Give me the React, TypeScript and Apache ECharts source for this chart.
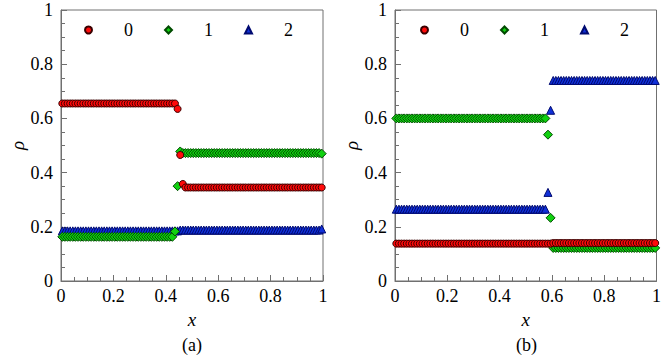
import React, { useEffect, useRef } from "react";
import * as echarts from "echarts";

const FONT = "'Liberation Serif', 'Times New Roman', Times, serif";

// cell-centre x positions (100 cells)
const xs = [
  0.005, 0.015, 0.025, 0.035, 0.045, 0.055, 0.065, 0.075, 0.085, 0.095,
  0.105, 0.115, 0.125, 0.135, 0.145, 0.155, 0.165, 0.175, 0.185, 0.195,
  0.205, 0.215, 0.225, 0.235, 0.245, 0.255, 0.265, 0.275, 0.285, 0.295,
  0.305, 0.315, 0.325, 0.335, 0.345, 0.355, 0.365, 0.375, 0.385, 0.395,
  0.405, 0.415, 0.425, 0.435, 0.445, 0.455, 0.465, 0.475, 0.485, 0.495,
  0.505, 0.515, 0.525, 0.535, 0.545, 0.555, 0.565, 0.575, 0.585, 0.595,
  0.605, 0.615, 0.625, 0.635, 0.645, 0.655, 0.665, 0.675, 0.685, 0.695,
  0.705, 0.715, 0.725, 0.735, 0.745, 0.755, 0.765, 0.775, 0.785, 0.795,
  0.805, 0.815, 0.825, 0.835, 0.845, 0.855, 0.865, 0.875, 0.885, 0.895,
  0.905, 0.915, 0.925, 0.935, 0.945, 0.955, 0.965, 0.975, 0.985, 0.995,
];

const seriesNames = ["0", "1", "2"];
const xTicks = [0, 0.2, 0.4, 0.6, 0.8, 1];
const panelLabels = ["(a)", "(b)"];

// Panel (a)
const a0 = [
  0.655, 0.655, 0.655, 0.655, 0.655, 0.655, 0.655, 0.655, 0.655, 0.655,
  0.655, 0.655, 0.655, 0.655, 0.655, 0.655, 0.655, 0.655, 0.655, 0.655,
  0.655, 0.655, 0.655, 0.655, 0.655, 0.655, 0.655, 0.655, 0.655, 0.655,
  0.655, 0.655, 0.655, 0.655, 0.655, 0.655, 0.655, 0.655, 0.655, 0.655,
  0.655, 0.655, 0.655, 0.655, 0.635, 0.465, 0.358, 0.345, 0.345, 0.345,
  0.345, 0.345, 0.345, 0.345, 0.345, 0.345, 0.345, 0.345, 0.345, 0.345,
  0.345, 0.345, 0.345, 0.345, 0.345, 0.345, 0.345, 0.345, 0.345, 0.345,
  0.345, 0.345, 0.345, 0.345, 0.345, 0.345, 0.345, 0.345, 0.345, 0.345,
  0.345, 0.345, 0.345, 0.345, 0.345, 0.345, 0.345, 0.345, 0.345, 0.345,
  0.345, 0.345, 0.345, 0.345, 0.345, 0.345, 0.345, 0.345, 0.345, 0.345,
];
const a1 = [
  0.163, 0.163, 0.163, 0.163, 0.163, 0.163, 0.163, 0.163, 0.163, 0.163,
  0.163, 0.163, 0.163, 0.163, 0.163, 0.163, 0.163, 0.163, 0.163, 0.163,
  0.163, 0.163, 0.163, 0.163, 0.163, 0.163, 0.163, 0.163, 0.163, 0.163,
  0.163, 0.163, 0.163, 0.163, 0.163, 0.163, 0.163, 0.163, 0.163, 0.163,
  0.163, 0.163, 0.163, 0.183, 0.35, 0.478, 0.472, 0.472, 0.472, 0.472,
  0.472, 0.472, 0.472, 0.472, 0.472, 0.472, 0.472, 0.472, 0.472, 0.472,
  0.472, 0.472, 0.472, 0.472, 0.472, 0.472, 0.472, 0.472, 0.472, 0.472,
  0.472, 0.472, 0.472, 0.472, 0.472, 0.472, 0.472, 0.472, 0.472, 0.472,
  0.472, 0.472, 0.472, 0.472, 0.472, 0.472, 0.472, 0.472, 0.472, 0.472,
  0.472, 0.472, 0.472, 0.472, 0.472, 0.472, 0.472, 0.472, 0.472, 0.47,
];
const a2 = [
  0.185, 0.185, 0.185, 0.185, 0.185, 0.185, 0.185, 0.185, 0.185, 0.185,
  0.185, 0.185, 0.185, 0.185, 0.185, 0.185, 0.185, 0.185, 0.185, 0.185,
  0.185, 0.185, 0.185, 0.185, 0.185, 0.185, 0.185, 0.185, 0.185, 0.185,
  0.185, 0.185, 0.185, 0.185, 0.185, 0.185, 0.185, 0.185, 0.185, 0.185,
  0.185, 0.185, 0.185, 0.185, 0.185, 0.188, 0.188, 0.188, 0.188, 0.188,
  0.188, 0.188, 0.188, 0.188, 0.188, 0.188, 0.188, 0.188, 0.188, 0.188,
  0.188, 0.188, 0.188, 0.188, 0.188, 0.188, 0.188, 0.188, 0.188, 0.188,
  0.188, 0.188, 0.188, 0.188, 0.188, 0.188, 0.188, 0.188, 0.188, 0.188,
  0.188, 0.188, 0.188, 0.188, 0.188, 0.188, 0.188, 0.188, 0.188, 0.188,
  0.188, 0.188, 0.188, 0.188, 0.188, 0.188, 0.188, 0.188, 0.188, 0.192,
];

// Panel (b)
const b0 = [
  0.138, 0.138, 0.138, 0.138, 0.138, 0.138, 0.138, 0.138, 0.138, 0.138,
  0.138, 0.138, 0.138, 0.138, 0.138, 0.138, 0.138, 0.138, 0.138, 0.138,
  0.138, 0.138, 0.138, 0.138, 0.138, 0.138, 0.138, 0.138, 0.138, 0.138,
  0.138, 0.138, 0.138, 0.138, 0.138, 0.138, 0.138, 0.138, 0.138, 0.138,
  0.138, 0.138, 0.138, 0.138, 0.138, 0.138, 0.138, 0.138, 0.138, 0.138,
  0.138, 0.138, 0.138, 0.138, 0.138, 0.138, 0.138, 0.138, 0.138, 0.138,
  0.14, 0.14, 0.14, 0.14, 0.14, 0.14, 0.14, 0.14, 0.14, 0.14,
  0.14, 0.14, 0.14, 0.14, 0.14, 0.14, 0.14, 0.14, 0.14, 0.14,
  0.14, 0.14, 0.14, 0.14, 0.14, 0.14, 0.14, 0.14, 0.14, 0.14,
  0.14, 0.14, 0.14, 0.14, 0.14, 0.14, 0.14, 0.14, 0.14, 0.14,
];
const b1 = [
  0.6, 0.6, 0.6, 0.6, 0.6, 0.6, 0.6, 0.6, 0.6, 0.6,
  0.6, 0.6, 0.6, 0.6, 0.6, 0.6, 0.6, 0.6, 0.6, 0.6,
  0.6, 0.6, 0.6, 0.6, 0.6, 0.6, 0.6, 0.6, 0.6, 0.6,
  0.6, 0.6, 0.6, 0.6, 0.6, 0.6, 0.6, 0.6, 0.6, 0.6,
  0.6, 0.6, 0.6, 0.6, 0.6, 0.6, 0.6, 0.6, 0.6, 0.6,
  0.6, 0.6, 0.6, 0.6, 0.6, 0.6, 0.6, 0.6, 0.54, 0.233,
  0.122, 0.122, 0.122, 0.122, 0.122, 0.122, 0.122, 0.122, 0.122, 0.122,
  0.122, 0.122, 0.122, 0.122, 0.122, 0.122, 0.122, 0.122, 0.122, 0.122,
  0.122, 0.122, 0.122, 0.122, 0.122, 0.122, 0.122, 0.122, 0.122, 0.122,
  0.122, 0.122, 0.122, 0.122, 0.122, 0.122, 0.122, 0.122, 0.122, 0.122,
];
const b2 = [
  0.265, 0.265, 0.265, 0.265, 0.265, 0.265, 0.265, 0.265, 0.265, 0.265,
  0.265, 0.265, 0.265, 0.265, 0.265, 0.265, 0.265, 0.265, 0.265, 0.265,
  0.265, 0.265, 0.265, 0.265, 0.265, 0.265, 0.265, 0.265, 0.265, 0.265,
  0.265, 0.265, 0.265, 0.265, 0.265, 0.265, 0.265, 0.265, 0.265, 0.265,
  0.265, 0.265, 0.265, 0.265, 0.265, 0.265, 0.265, 0.265, 0.265, 0.265,
  0.265, 0.265, 0.265, 0.265, 0.265, 0.265, 0.265, 0.265, 0.327, 0.63,
  0.74, 0.74, 0.74, 0.74, 0.74, 0.74, 0.74, 0.74, 0.74, 0.74,
  0.74, 0.74, 0.74, 0.74, 0.74, 0.74, 0.74, 0.74, 0.74, 0.74,
  0.74, 0.74, 0.74, 0.74, 0.74, 0.74, 0.74, 0.74, 0.74, 0.74,
  0.74, 0.74, 0.74, 0.74, 0.74, 0.74, 0.74, 0.74, 0.74, 0.74,
];

const panels = [
  [a0, a1, a2],
  [b0, b1, b2],
];

const STYLES = [
  { symbol: "circle", size: 7, color: "#ff0a0a", border: "#3a0000", z: 4 },
  { symbol: "diamond", size: 9, color: "#10d010", border: "#004a00", z: 3 },
  { symbol: "triangle", size: 8, color: "#1030d8", border: "#000a70", z: 2 },
];

const GRIDS = [
  { left: 61, top: 10, width: 262, height: 271 },
  { left: 395, top: 10, width: 263, height: 271 },
];

const AXIS_COLOR = "#707070";

function fmt(v: number) {
  return String(Math.round(v * 10) / 10);
}

export default function App() {
  const ref = useRef<HTMLDivElement>(null);

  useEffect(() => {
    document.body.style.margin = "0";
    if (!ref.current) return;
    const chart = echarts.init(ref.current, null, { renderer: "svg" });

    const axisCommon = (gridIndex: number, name: string, isX: boolean) => ({
      type: "value",
      gridIndex,
      min: xTicks[0],
      max: xTicks[xTicks.length - 1],
      interval: 0.2,
      name,
      nameLocation: "middle",
      nameGap: isX ? 24 : 34,
      nameTextStyle: {
        fontFamily: FONT,
        fontStyle: "italic",
        fontSize: 19,
        color: "#000",
      },
      axisLine: { show: true, lineStyle: { color: AXIS_COLOR, width: 1 } },
      axisTick: {
        show: true,
        inside: true,
        length: 6,
        lineStyle: { color: AXIS_COLOR, width: 1 },
      },
      minorTick: {
        show: true,
        splitNumber: 4,
        length: 4,
        lineStyle: { color: AXIS_COLOR, width: 1 },
      },
      axisLabel: {
        fontFamily: FONT,
        fontSize: 18,
        color: "#000",
        margin: isX ? 6 : 8,
        formatter: fmt,
      },
      splitLine: { show: false },
      minorSplitLine: { show: false },
    });

    const series: any[] = [];
    panels.forEach((sets, p) => {
      sets.forEach((vals, k) => {
        const st = STYLES[k];
        series.push({
          type: "scatter",
          name: seriesNames[k],
          xAxisIndex: p,
          yAxisIndex: p,
          symbol: st.symbol,
          symbolSize: st.size,
          z: st.z,
          itemStyle: {
            color: st.color,
            borderColor: st.border,
            borderWidth: 1,
            opacity: 1,
          },
          emphasis: { disabled: true },
          data: xs.map((x, i) => [x, vals[i]]),
        });
      });
    });

    const legendLefts = [79, 415];

    chart.setOption({
      animation: false,
      backgroundColor: "#fff",
      grid: GRIDS.map((g) => ({
        ...g,
        show: true,
        borderColor: AXIS_COLOR,
        borderWidth: 1,
        backgroundColor: "transparent",
        containLabel: false,
      })),
      xAxis: GRIDS.map((_, i) => axisCommon(i, "x", true)),
      yAxis: GRIDS.map((_, i) => axisCommon(i, "ρ", false)),
      legend: legendLefts.map((left) => ({
        data: seriesNames,
        left,
        top: 16,
        orient: "horizontal",
        itemWidth: 7,
        itemHeight: 7,
        itemGap: 31,
        selectedMode: false,
        formatter: (name: string) => `{s| }{t|${name}}`,
        textStyle: {
          fontFamily: FONT,
          fontSize: 18,
          color: "#000",
          rich: {
            s: { width: 27, fontSize: 18 },
            t: { fontFamily: FONT, fontSize: 18, color: "#000" },
          },
        },
      })),
      graphic: panelLabels.map((t, i) => ({
        type: "text",
        x: GRIDS[i].left + GRIDS[i].width / 2,
        y: 345,
        style: {
          text: t,
          fontFamily: FONT,
          fontSize: 18,
          fill: "#000",
          textAlign: "center",
          textVerticalAlign: "middle",
        },
      })),
      series,
    });

    return () => chart.dispose();
  }, []);

  return <div ref={ref} style={{ width: 664, height: 360 }} />;
}
